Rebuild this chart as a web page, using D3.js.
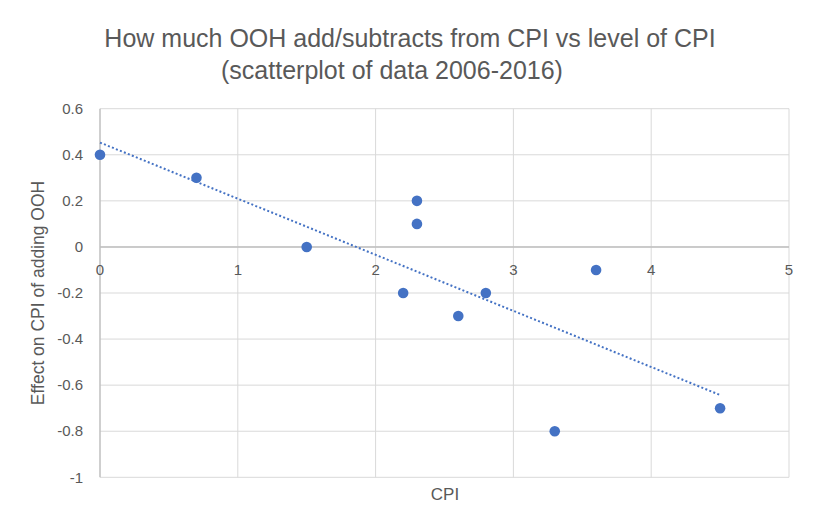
<!DOCTYPE html>
<html><head><meta charset="utf-8">
<script src="https://cdn.jsdelivr.net/npm/d3@7"></script>
<style>body{margin:0;background:#fff;font-family:"Liberation Sans",Arial,sans-serif;}</style>
</head><body>
<svg id="c" width="814" height="529"></svg>
<script>
const cpi    = [0, 0.7, 1.5, 2.3, 2.3, 2.2, 2.6, 2.8, 3.3, 3.6, 4.5];
const effect = [0.4, 0.3, 0, 0.2, 0.1, -0.2, -0.3, -0.2, -0.8, -0.1, -0.7];
const xTicks = [0, 1, 2, 3, 4, 5];
const yTicks = [0.6, 0.4, 0.2, 0, -0.2, -0.4, -0.6, -0.8, -1];
const titleLines = ["How much OOH add/subtracts from CPI vs level of CPI", "(scatterplot of data 2006-2016)"];
const xTitle = "CPI", yTitle = "Effect on CPI of adding OOH";

const svg = d3.select("#c");
const L = 100, R = 789, T = 108.7, B = 477.3;
const x = d3.scaleLinear().domain([0, 5]).range([L, R]);
const y = d3.scaleLinear().domain([-1, 0.6]).range([B, T]);
const txt = "#595959", grid = "#d9d9d9", blue = "#4472C4";

// gridlines
svg.append("g").selectAll("line").data(yTicks).join("line")
  .attr("x1", L).attr("x2", R).attr("y1", d => y(d)).attr("y2", d => y(d))
  .attr("stroke", grid).attr("stroke-width", 1);
svg.append("g").selectAll("line").data(xTicks.filter(d => d !== 0)).join("line")
  .attr("y1", T).attr("y2", B).attr("x1", d => x(d)).attr("x2", d => x(d))
  .attr("stroke", grid).attr("stroke-width", 1);

// axes lines
svg.append("line").attr("x1", x(0)).attr("x2", x(0)).attr("y1", T).attr("y2", B)
  .attr("stroke", "#bfbfbf").attr("stroke-width", 1.5);
svg.append("line").attr("x1", L).attr("x2", R).attr("y1", y(0)).attr("y2", y(0))
  .attr("stroke", "#bfbfbf").attr("stroke-width", 1.5);

// tick labels
svg.append("g").selectAll("text").data(yTicks).join("text")
  .attr("x", 83).attr("y", d => y(d)).attr("dy", "0.35em")
  .attr("text-anchor", "end").attr("fill", txt).attr("font-size", 15)
  .text(d => String(d));
svg.append("g").selectAll("text").data(xTicks).join("text")
  .attr("x", d => x(d)).attr("y", y(0) + 23).attr("dy", "0.35em")
  .attr("text-anchor", "middle").attr("fill", txt).attr("font-size", 15)
  .text(d => String(d));

// trendline (least squares)
const n = cpi.length;
const mx = d3.mean(cpi), my = d3.mean(effect);
let sxy = 0, sxx = 0;
for (let i = 0; i < n; i++) { sxy += (cpi[i] - mx) * (effect[i] - my); sxx += (cpi[i] - mx) ** 2; }
const slope = sxy / sxx, icpt = my - slope * mx;
const x0 = d3.min(cpi), x1 = d3.max(cpi);
svg.append("line")
  .attr("x1", x(x0)).attr("y1", y(icpt + slope * x0))
  .attr("x2", x(x1)).attr("y2", y(icpt + slope * x1))
  .attr("stroke", blue).attr("stroke-width", 2).attr("stroke-dasharray", "2 2.3");

// points
svg.append("g").selectAll("circle").data(cpi.map((c, i) => [c, effect[i]])).join("circle")
  .attr("cx", d => x(d[0])).attr("cy", d => y(d[1])).attr("r", 5.3).attr("fill", blue);

// titles
const titleX = [410, 392];
svg.append("g").selectAll("text").data(titleLines).join("text")
  .attr("x", (d, i) => titleX[i]).attr("y", (d, i) => 47 + i * 32)
  .attr("text-anchor", "middle").attr("fill", txt).attr("font-size", 25)
  .text(d => d);
svg.append("text").attr("x", 445).attr("y", 500).attr("text-anchor", "middle")
  .attr("fill", txt).attr("font-size", 17).text(xTitle);
svg.append("text").attr("transform", `translate(44,${(T + B) / 2}) rotate(-90)`)
  .attr("text-anchor", "middle").attr("fill", txt).attr("font-size", 17.5).text(yTitle);
</script>
</body></html>
